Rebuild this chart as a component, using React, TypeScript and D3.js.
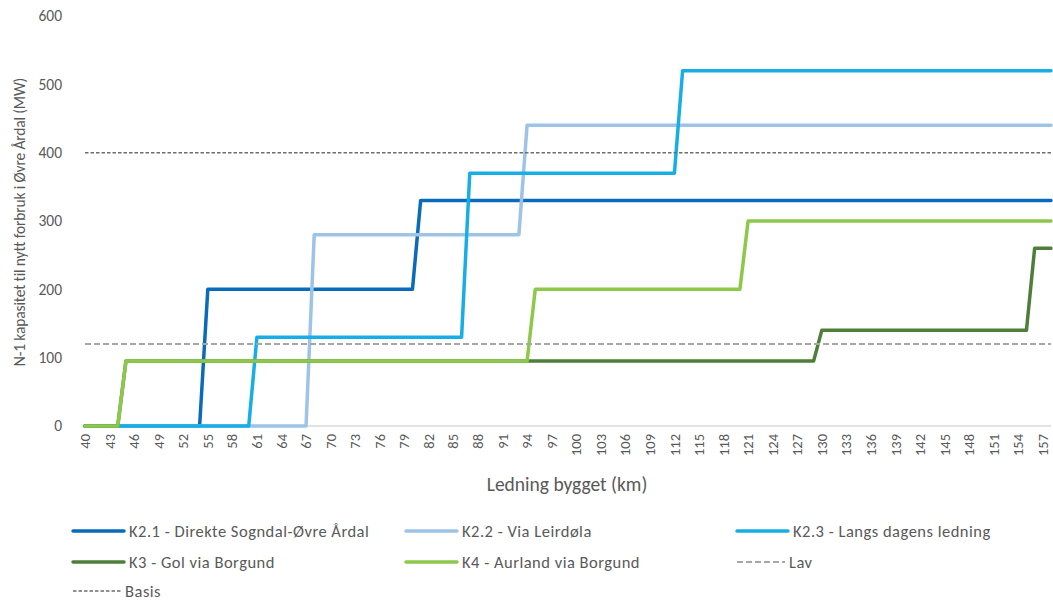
import React from 'react';
import * as d3 from 'd3';

// km where the line is built, value = N-1 capacity (MW). Step series given as change points.
const kmCategories = d3.range(40, 159);
const tickLabels = kmCategories.filter((k) => (k - 40) % 3 === 0);
const yTicks = [0, 100, 200, 300, 400, 500, 600];

const k21: [number, number][] = [[40, 0], [54, 0], [55, 200], [80, 200], [81, 330], [158, 330]];
const k22: [number, number][] = [[40, 0], [67, 0], [68, 280], [93, 280], [94, 440], [158, 440]];
const k23: [number, number][] = [[40, 0], [60, 0], [61, 130], [86, 130], [87, 370], [112, 370], [113, 520], [158, 520]];
const k3: [number, number][] = [[40, 0], [44, 0], [45, 95], [129, 95], [130, 140], [155, 140], [156, 260], [158, 260]];
const k4: [number, number][] = [[40, 0], [44, 0], [45, 95], [94, 95], [95, 200], [120, 200], [121, 300], [158, 300]];
const lav: [number, number][] = [[40, 120], [158, 120]];
const basis: [number, number][] = [[40, 400], [158, 400]];

interface Series {
  name: string;
  data: [number, number][];
  color: string;
  width: number;
  dash?: string;
}

const series: Series[] = [
  { name: 'K2.1 - Direkte Sogndal-Øvre Årdal', data: k21, color: '#0A6BBA', width: 3.5 },
  { name: 'K2.2 - Via Leirdøla', data: k22, color: '#9DC3E6', width: 3.5 },
  { name: 'K2.3 - Langs dagens ledning', data: k23, color: '#17AEE6', width: 3.5 },
  { name: 'K3 - Gol via Borgund', data: k3, color: '#4E7F3A', width: 3.5 },
  { name: 'K4 - Aurland via Borgund', data: k4, color: '#8DC84B', width: 3.5 },
  { name: 'Lav', data: lav, color: '#A6A6A6', width: 2, dash: '6,3' },
  { name: 'Basis', data: basis, color: '#6E6E6E', width: 1.5, dash: '3.5,2' },
];

const legendCols = [73, 406, 737];
const legendRows = [531, 562, 591];

const W = 1053;
const H = 601;
const font = "Carlito, Calibri, 'Open Sans', 'Noto Sans', sans-serif";
const textColor = '#595959';

export default function App() {
  const x = d3.scaleLinear().domain([40, 158]).range([85, 1051]);
  const y = d3.scaleLinear().domain([0, 600]).range([426, 16]);
  const line = d3.line<[number, number]>().x((d) => x(d[0])).y((d) => y(d[1]));

  return (
    <div style={{ position: 'fixed', left: 0, top: 0 }}>
      <svg width={W} height={H} style={{ display: 'block', background: '#fff' }} fontFamily={font}>
        <line x1={82} x2={1051} y1={y(0)} y2={y(0)} stroke="#D9D9D9" strokeWidth={1.5} />

        {yTicks.map((t) => (
          <text key={t} x={62} y={y(t)} dy="0.35em" textAnchor="end" fontSize={15.5} fill={textColor}>
            {t}
          </text>
        ))}

        {tickLabels.map((k) => (
          <text
            key={k}
            transform={`translate(${x(k)},434) rotate(-90)`}
            dy="0.35em"
            textAnchor="end"
            fontSize={14.5}
            fill={textColor}
          >
            {k}
          </text>
        ))}

        <text x={567} y={484} dy="0.35em" textAnchor="middle" fontSize={19.5} fill={textColor}>
          Ledning bygget (km)
        </text>
        <text
          transform="translate(20,222) rotate(-90)"
          dy="0.35em"
          textAnchor="middle"
          fontSize={15.5}
          letterSpacing={-0.15}
          fill={textColor}
        >
          N-1 kapasitet til nytt forbruk i Øvre Årdal (MW)
        </text>

        {series.map((s) => (
          <path
            key={s.name}
            d={line(s.data) || ''}
            fill="none"
            stroke={s.color}
            strokeWidth={s.width}
            strokeDasharray={s.dash}
            strokeLinejoin="round"
            strokeLinecap={s.dash ? 'butt' : 'round'}
          />
        ))}

        {series.map((s, i) => {
          const lx = legendCols[i % 3];
          const ly = legendRows[Math.floor(i / 3)];
          return (
            <g key={s.name} transform={`translate(${lx},${ly})`}>
              <line
                x1={0}
                x2={s.dash ? 48 : 51}
                y1={0}
                y2={0}
                stroke={s.color}
                strokeWidth={s.width}
                strokeDasharray={s.dash}
                strokeLinecap={s.dash ? 'butt' : 'round'}
              />
              <text
                x={s.dash ? 52 : 56}
                y={0}
                dy="0.35em"
                fontSize={16.5}
                letterSpacing={0.5}
                fill={textColor}
              >
                {s.name}
              </text>
            </g>
          );
        })}
      </svg>
    </div>
  );
}
